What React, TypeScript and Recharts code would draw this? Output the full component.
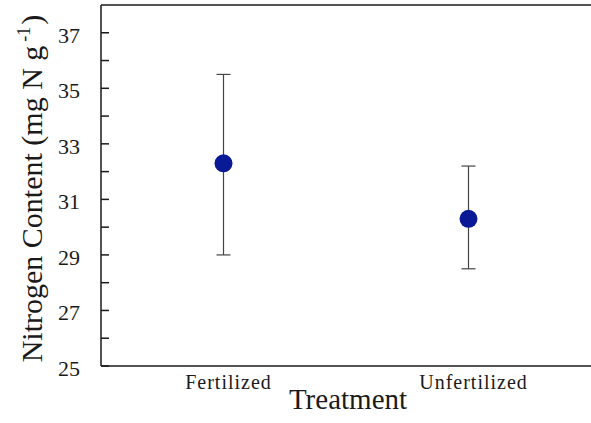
import React from 'react';
import {
  ComposedChart,
  Scatter,
  ErrorBar,
  XAxis,
  YAxis,
  ReferenceLine,
  Label,
} from 'recharts';

const categories = ['Fertilized', 'Unfertilized'];
const means = [32.3, 30.3];
const upper = [35.5, 32.2];
const lower = [29.0, 28.5];

const majorTicks = [25, 27, 29, 31, 33, 35, 37];
const minorTicks = [26, 28, 30, 32, 34, 36];

const FONT = '"Liberation Serif", "Times New Roman", serif';
const INK = '#1a1a1a';

const data = categories.map((category, i) => ({
  category,
  mean: means[i],
  err: [means[i] - lower[i], upper[i] - means[i]],
}));

const allTicks = [...majorTicks, ...minorTicks].sort((a, b) => a - b);

function XTick(props: any) {
  const { x, y, payload } = props;
  return (
    <text
      x={x + 5}
      y={y}
      dy={23}
      textAnchor="middle"
      fontSize={20}
      letterSpacing={1}
      fontFamily={FONT}
      fill={INK}
    >
      {payload.value}
    </text>
  );
}

function YTitle(props: any) {
  const vb = props.viewBox || { x: 0, y: 0, width: 0, height: 0 };
  const cy = vb.y + vb.height / 2 + 3;
  return (
    <text
      transform={`translate(42, ${cy}) rotate(-90)`}
      textAnchor="middle"
      fontSize={30}
      fontFamily={FONT}
      fill={INK}
    >
      Nitrogen Content (mg N g
      <tspan dx={4} dy={-12} fontSize={18}>-1</tspan>
      <tspan dx={2} dy={12}>)</tspan>
    </text>
  );
}

function XTitle(props: any) {
  const vb = props.viewBox || { x: 0, y: 0, width: 0, height: 0 };
  return (
    <text
      x={vb.x + vb.width / 2 + 2}
      y={vb.y + 43}
      textAnchor="middle"
      fontSize={29}
      fontFamily={FONT}
      fill={INK}
    >
      Treatment
    </text>
  );
}

function Dot(props: any) {
  const { cx, cy } = props;
  return <circle cx={cx} cy={cy} r={9} fill="#0a1a96" />;
}

export default function App() {
  return (
    <div style={{ position: 'absolute', left: 0, top: 0, background: '#fff' }}>
      <ComposedChart
        width={591}
        height={423}
        data={data}
        margin={{ top: 5, right: 0, bottom: 0, left: 0 }}
      >
        <XAxis
          dataKey="category"
          type="category"
          scale="band"
          height={57}
          axisLine={{ stroke: INK, strokeWidth: 1.5 }}
          tickLine={false}
          tickSize={0}
          tickMargin={0}
          tick={<XTick />}
        >
          <Label content={<XTitle />} />
        </XAxis>
        <YAxis
          type="number"
          domain={[25, 38]}
          ticks={allTicks}
          width={101}
          axisLine={{ stroke: INK, strokeWidth: 1.5 }}
          tickLine={{ stroke: INK, strokeWidth: 1.5 }}
          tickSize={-8}
          tickMargin={29}
          interval={0}
          tickFormatter={(v: number) => (majorTicks.includes(v) ? String(v) : '')}
          tick={{ fontSize: 22, fontFamily: FONT, fill: INK, dy: 2 }}
        >
          <Label content={<YTitle />} />
        </YAxis>
        <ReferenceLine y={38} stroke={INK} strokeWidth={1.5} />
        <Scatter dataKey="mean" shape={<Dot />} isAnimationActive={false}>
          <ErrorBar dataKey="err" direction="y" width={7} stroke="#444" strokeWidth={1.2} />
        </Scatter>
      </ComposedChart>
    </div>
  );
}
